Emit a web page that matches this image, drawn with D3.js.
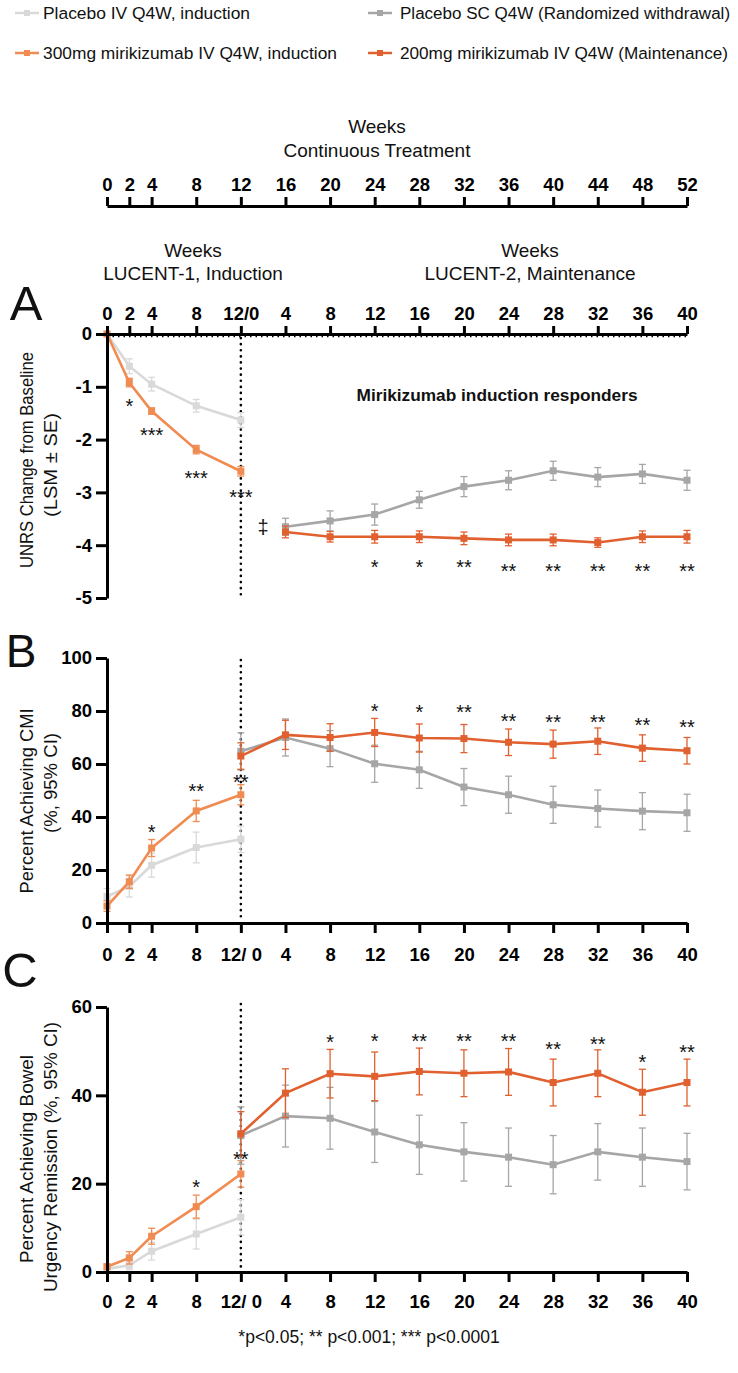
<!DOCTYPE html>
<html><head><meta charset="utf-8">
<script src="https://cdn.jsdelivr.net/npm/d3@7"></script>
<style>body{margin:0;background:#fff}svg{display:block}</style>
</head><body><svg id="c" width="738" height="1373"></svg>
<script>
// ---------- data ----------
const indWeeks = [0, 2, 4, 8, 12];
const mntWeeksA = [4, 8, 12, 16, 20, 24, 28, 32, 36, 40];
const mntWeeksBC = [0, 4, 8, 12, 16, 20, 24, 28, 32, 36, 40];
const contTicks = [0, 2, 4, 8, 12, 16, 20, 24, 28, 32, 36, 40, 44, 48, 52];
const contTickLabels = ["0","2","4","8","12","16","20","24","28","32","36","40","44","48","52"];
const studyTickLabelsA = ["0","2","4","8","12/0","4","8","12","16","20","24","28","32","36","40"];
const studyTickLabelsBC = ["0","2","4","8","12/ 0","4","8","12","16","20","24","28","32","36","40"];
const yTicksA = [0, -1, -2, -3, -4, -5];
const yTicksB = [0, 20, 40, 60, 80, 100];
const yTicksC = [0, 20, 40, 60];

const legendLabels = ["Placebo IV Q4W, induction", "300mg mirikizumab IV Q4W, induction",
  "Placebo SC Q4W (Randomized withdrawal)", "200mg mirikizumab IV Q4W (Maintenance)"];

// Panel A: UNRS change from baseline (LSM ± SE)
const A_pboIV = [0, -0.61, -0.95, -1.36, -1.63];
const A_pboIV_err = [0, 0.14, 0.13, 0.12, 0.14];
const A_mir300 = [0, -0.92, -1.46, -2.19, -2.60];
const A_mir300_err = [0, 0.08, 0.06, 0.08, 0.09];
const A_pboSC = [-3.65, -3.54, -3.42, -3.14, -2.89, -2.77, -2.59, -2.71, -2.65, -2.77];
const A_pboSC_err = [0.16, 0.19, 0.2, 0.16, 0.19, 0.18, 0.18, 0.18, 0.18, 0.19];
const A_mir200 = [-3.75, -3.84, -3.84, -3.84, -3.87, -3.90, -3.90, -3.95, -3.84, -3.84];
const A_mir200_err = [0.11, 0.1, 0.12, 0.11, 0.12, 0.11, 0.11, 0.09, 0.11, 0.12];
const A_starsInd = [[2, "*", -1.29], [4, "***", -1.84], [8, "***", -2.65], [12, "***", -3.01]];
const A_starsMnt = [[12, "*", -4.34], [16, "*", -4.34], [20, "**", -4.34], [24, "**", -4.41],
  [28, "**", -4.41], [32, "**", -4.41], [36, "**", -4.41], [40, "**", -4.41]];

// Panel B: percent achieving CMI (95% CI)
const B_pboIV = [10.0, 13.8, 21.8, 28.5, 31.6];
const B_pboIV_err = [3, 4, 4.5, 5.8, 5];
const B_mir300 = [6.4, 15.6, 28.3, 42.3, 48.4];
const B_mir300_err = [2, 2.5, 3.2, 4, 3.8];
const B_pboSC = [64.8, 70.0, 65.8, 60.1, 57.8, 51.3, 48.4, 44.6, 43.2, 42.2, 41.6];
const B_pboSC_err = [7, 7, 6.8, 7, 7, 7, 7, 7, 7, 7, 7];
const B_mir200 = [63.0, 71.0, 70.0, 71.9, 69.8, 69.6, 68.2, 67.5, 68.6, 66.0, 65.0];
const B_mir200_err = [5, 5.5, 5.2, 5.3, 5.3, 5.3, 5, 5.3, 5, 5, 5];
const B_starsInd = [[4, "*", 35.8], [8, "**", 51.3], [12, "**", 54.7]];
const B_starsMnt = [[12, "*", 81.5], [16, "*", 81.1], [20, "**", 81.1], [24, "**", 77.7],
  [28, "**", 77.4], [32, "**", 77.4], [36, "**", 76.2], [40, "**", 75.5]];

// Panel C: percent achieving bowel urgency remission (95% CI)
const C_pboIV = [0.7, 1.5, 4.7, 8.6, 12.4];
const C_pboIV_err = [0.6, 1, 2, 3.4, 4];
const C_mir300 = [1.2, 3.2, 8.1, 14.8, 22.2];
const C_mir300_err = [0.6, 1.4, 1.8, 2.6, 3];
const C_pboSC = [30.9, 35.3, 34.8, 31.7, 28.8, 27.2, 26.0, 24.3, 27.2, 26.0, 25.0];
const C_pboSC_err = [6.5, 7, 7, 6.9, 6.7, 6.6, 6.6, 6.6, 6.4, 6.6, 6.4];
const C_mir200 = [31.3, 40.5, 44.9, 44.3, 45.4, 45.0, 45.3, 42.9, 45.0, 40.7, 42.9];
const C_mir200_err = [5, 5.5, 5.5, 5.5, 5.3, 5.3, 5.3, 5.3, 5.3, 5.2, 5.3];
const C_starsInd = [[8, "*", 20.1], [12, "**", 26.5]];
const C_starsMnt = [[8, "*", 52.9], [12, "*", 53.2], [16, "**", 53.2], [20, "**", 53.2], [24, "**", 53.2],
  [28, "**", 51.4], [32, "**", 52.5], [36, "*", 48.4], [40, "**", 50.7]];

// ---------- styling ----------
const FONT = "'Liberation Sans', Arial, Helvetica, sans-serif";
const COL = { pboIV: "#d9d9d9", mir300: "#f08b52", pboSC: "#a6a6a6", mir200: "#e0602f" };
const MNT_OFFSET = 12;

const svg = d3.select("#c");
svg.append("rect").attr("width", 738).attr("height", 1373).attr("fill", "#fff");

const x = d3.scaleLinear().domain([0, 52]).range([107, 687]);

// ---------- legend ----------
const legendItems = [
  { label: legendLabels[0], c: COL.pboIV, lx: 15, tx: 43, y: 13, w: 207 },
  { label: legendLabels[1], c: COL.mir300, lx: 15, tx: 43, y: 53, w: 294 },
  { label: legendLabels[2], c: COL.pboSC, lx: 368, tx: 400, y: 13, w: 330 },
  { label: legendLabels[3], c: COL.mir200, lx: 368, tx: 400, y: 53, w: 328 }
];
const lg = svg.append("g");
legendItems.forEach(d => {
  lg.append("line").attr("x1", d.lx).attr("x2", d.lx + 24).attr("y1", d.y).attr("y2", d.y)
    .attr("stroke", d.c).attr("stroke-width", 2.5);
  lg.append("rect").attr("x", d.lx + 9).attr("y", d.y - 3).attr("width", 6).attr("height", 6).attr("fill", d.c);
  const t = lg.append("text").attr("x", d.tx).attr("y", d.y + 6).attr("font-family", FONT).attr("font-size", 17.2)
    .attr("fill", "#111").text(d.label);
  const nat = t.node().getComputedTextLength();
  if (nat > d.w) t.attr("font-size", 17.2 * d.w / nat);
  else t.attr("textLength", d.w).attr("lengthAdjust", "spacingAndGlyphs");
});

function txt(t, xx, yy, opts = {}) {
  const e = svg.append("text").attr("x", xx).attr("y", yy).attr("font-family", FONT)
    .attr("font-size", opts.size || 19).attr("text-anchor", opts.anchor || "middle")
    .attr("font-weight", opts.weight || "normal").attr("fill", "#111").text(t);
  if (opts.len) e.attr("textLength", opts.len).attr("lengthAdjust", "spacingAndGlyphs");
  if (opts.rot) e.attr("transform", `rotate(-90,${xx},${yy})`);
  return e;
}

function styleAxis(g, fs) {
  g.select(".domain").attr("stroke", "#000").attr("stroke-width", 3);
  g.selectAll(".tick line").attr("stroke", "#000").attr("stroke-width", 3);
  g.selectAll(".tick text").attr("font-family", FONT).attr("font-size", fs || 18.5)
    .attr("font-weight", "bold").attr("fill", "#000");
}

// ---------- top continuous axis ----------
txt("Weeks", 377, 133);
txt("Continuous Treatment", 377, 157);
const gTop = svg.append("g").attr("transform", "translate(0,206)")
  .call(d3.axisTop(x).tickValues(contTicks).tickFormat((d, i) => contTickLabels[i]).tickSize(9).tickSizeOuter(0).tickPadding(6));
styleAxis(gTop);

// ---------- panel helper ----------
function drawPanel(y, xAxisPos, series, stars, opts) {
  const g = svg.append("g");
  g.append("line").attr("x1", x(12)).attr("x2", x(12)).attr("y1", opts.dotTop).attr("y2", opts.dotBottom)
    .attr("stroke", "#000").attr("stroke-width", 2.6).attr("stroke-dasharray", "0.1,6").attr("stroke-linecap", "round");

  series.forEach(s => {
    const pts = s.weeks.map((w, i) => ({ w: w + s.off, v: s.vals[i], e: s.err[i] }));
    const line = d3.line().x(d => x(d.w)).y(d => y(d.v));
    g.append("path").attr("d", line(pts)).attr("fill", "none").attr("stroke", s.c).attr("stroke-width", 2.6);
    pts.filter(d => d.e > 0).forEach(d => {
      const cx = x(d.w), y1 = y(d.v - d.e), y2 = y(d.v + d.e);
      g.append("line").attr("x1", cx).attr("x2", cx).attr("y1", y1).attr("y2", y2).attr("stroke", s.c).attr("stroke-width", 1.3);
      [y1, y2].forEach(yy => g.append("line").attr("x1", cx - 3.5).attr("x2", cx + 3.5).attr("y1", yy).attr("y2", yy)
        .attr("stroke", s.c).attr("stroke-width", 1.3));
    });
    g.selectAll(null).data(pts).enter().append("rect")
      .attr("x", d => x(d.w) - 3.5).attr("y", d => y(d.v) - 3.5).attr("width", 7).attr("height", 7).attr("fill", s.c);
  });

  stars.forEach(s => {
    s.list.forEach(([w, t, v]) => {
      svg.append("text").attr("x", x(w + s.off)).attr("y", y(v) + 11).attr("text-anchor", "middle")
        .attr("font-family", FONT).attr("font-size", 20).attr("fill", "#111").text(t);
    });
  });

  const ya = svg.append("g").attr("transform", `translate(${x(0)},0)`)
    .call(d3.axisLeft(y).tickValues(opts.yTicks).tickFormat(d => String(d)).tickSize(11).tickSizeOuter(0).tickPadding(4));
  styleAxis(ya);
  const ax = opts.top ? d3.axisTop(x) : d3.axisBottom(x);
  const xa = svg.append("g").attr("transform", `translate(0,${xAxisPos})`)
    .call(ax.tickValues(contTicks).tickFormat((d, i) => opts.xLabels[i]).tickSize(opts.top ? 8 : 10).tickSizeOuter(0).tickPadding(opts.pad));
  styleAxis(xa);
  return g;
}

// ---------- Panel A ----------
const yA = d3.scaleLinear().domain([-5, 0]).range([598, 334]);
txt("Weeks", 193, 257);
txt("LUCENT-1, Induction", 193, 280);
txt("Weeks", 530, 257);
txt("LUCENT-2, Maintenance", 530, 280);
txt("A", 26, 320, { size: 49 });
svg.append("line").attr("x1", x(0)).attr("x2", x(52)).attr("y1", yA(0) + 2.5).attr("y2", yA(0) + 2.5)
  .attr("stroke", "#000").attr("stroke-width", 1.4).attr("stroke-dasharray", "1.5,4");
drawPanel(yA, yA(0), [
  { weeks: indWeeks, vals: A_pboIV, err: A_pboIV_err, c: COL.pboIV, off: 0 },
  { weeks: indWeeks, vals: A_mir300, err: A_mir300_err, c: COL.mir300, off: 0 },
  { weeks: mntWeeksA, vals: A_pboSC, err: A_pboSC_err, c: COL.pboSC, off: MNT_OFFSET },
  { weeks: mntWeeksA, vals: A_mir200, err: A_mir200_err, c: COL.mir200, off: MNT_OFFSET }
], [{ list: A_starsInd, off: 0 }, { list: A_starsMnt, off: MNT_OFFSET }],
  { yTicks: yTicksA, xLabels: studyTickLabelsA, top: true, pad: 6, dotTop: 338, dotBottom: 598 });
txt("Mirikizumab induction responders", 497, 401, { size: 16, weight: "bold", len: 281 });
txt("‡", 263, 534, { size: 20 });
txt("UNRS Change from Baseline", 33, 460, { rot: true, size: 18.5, len: 216 });
txt("(LSM ± SE)", 57, 465, { rot: true, size: 18.5, len: 104 });

// ---------- Panel B ----------
const yB = d3.scaleLinear().domain([0, 100]).range([923, 658]);
txt("B", 21, 667, { size: 46 });
drawPanel(yB, yB(0), [
  { weeks: indWeeks, vals: B_pboIV, err: B_pboIV_err, c: COL.pboIV, off: 0 },
  { weeks: indWeeks, vals: B_mir300, err: B_mir300_err, c: COL.mir300, off: 0 },
  { weeks: mntWeeksBC, vals: B_pboSC, err: B_pboSC_err, c: COL.pboSC, off: MNT_OFFSET },
  { weeks: mntWeeksBC, vals: B_mir200, err: B_mir200_err, c: COL.mir200, off: MNT_OFFSET }
], [{ list: B_starsInd, off: 0 }, { list: B_starsMnt, off: MNT_OFFSET }],
  { yTicks: yTicksB, xLabels: studyTickLabelsBC, top: false, pad: 15, dotTop: 660, dotBottom: 920 });
txt("Percent Achieving CMI", 33, 801, { rot: true, size: 18.5, len: 185 });
txt("(%, 95% CI)", 57, 783, { rot: true, size: 18.5, len: 100 });

// ---------- Panel C ----------
const yC = d3.scaleLinear().domain([0, 60]).range([1272, 1007]);
txt("C", 20, 987, { size: 49 });
drawPanel(yC, yC(0), [
  { weeks: indWeeks, vals: C_pboIV, err: C_pboIV_err, c: COL.pboIV, off: 0 },
  { weeks: indWeeks, vals: C_mir300, err: C_mir300_err, c: COL.mir300, off: 0 },
  { weeks: mntWeeksBC, vals: C_pboSC, err: C_pboSC_err, c: COL.pboSC, off: MNT_OFFSET },
  { weeks: mntWeeksBC, vals: C_mir200, err: C_mir200_err, c: COL.mir200, off: MNT_OFFSET }
], [{ list: C_starsInd, off: 0 }, { list: C_starsMnt, off: MNT_OFFSET }],
  { yTicks: yTicksC, xLabels: studyTickLabelsBC, top: false, pad: 13, dotTop: 1004, dotBottom: 1270 });
txt("Percent Achieving Bowel", 33, 1159, { rot: true, size: 18.5, len: 208 });
txt("Urgency Remission (%, 95% CI)", 57, 1157, { rot: true, size: 18.5, len: 270 });

// ---------- footnote ----------
txt("*p<0.05; ** p<0.001; *** p<0.0001", 369, 1343, { size: 17.5 });
</script></body></html>
